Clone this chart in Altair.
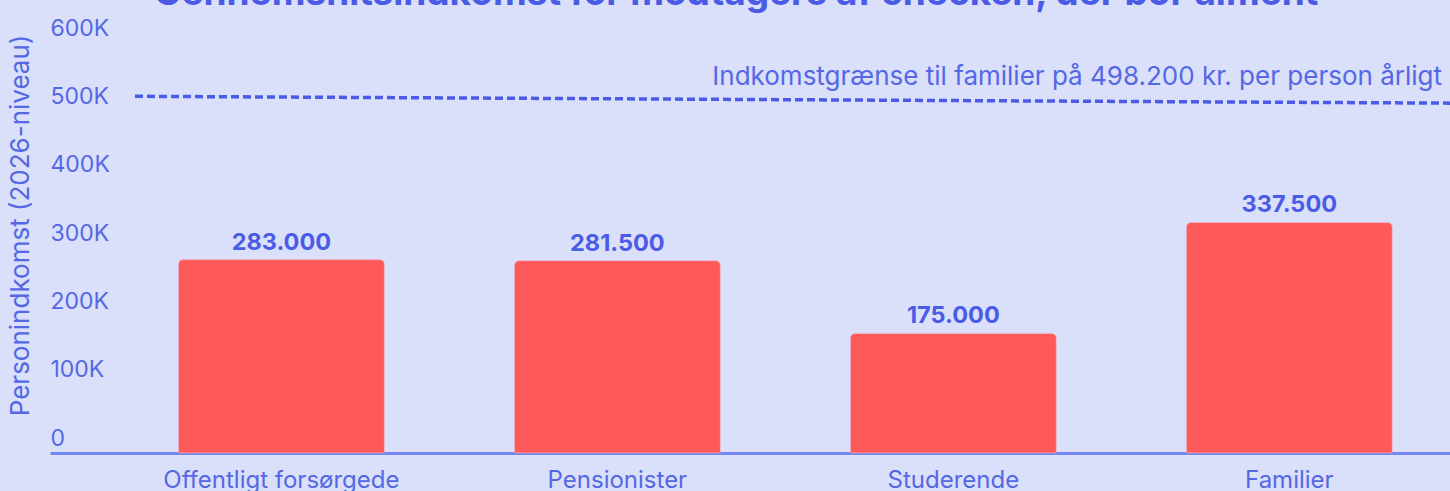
import altair as alt
import pandas as pd

# ---- data ----
categories = ["Offentligt forsørgede", "Pensionister", "Studerende", "Familier"]
incomes = [283000, 281500, 175000, 337500]
y_ticks = [0, 100000, 200000, 300000, 400000, 500000, 600000]
limit_text = "Indkomstgrænse til familier på 498.200 kr. per person årligt"
# dashed limit line as drawn (slightly sloping in the picture)
limit_line_start = 522000
limit_line_end = 512000
title_text = "Gennemsnitsindkomst for modtagere af checken, der bor alment"

BG = "#DADFFA"
BLUE = "#4A5CE6"
LABEL_BLUE = "#5468E4"
BAR = "#FF5A5A"
FONT = "Inter"

df = pd.DataFrame({
    "kategori": categories,
    "indkomst": incomes,
    "label": [f"{v:,}".replace(",", ".") for v in incomes],
})
limit_df = pd.DataFrame({
    "y1": [limit_line_start],
    "y2": [limit_line_end],
    "text": [limit_text],
})

y_scale = alt.Scale(domain=[0, 600000], nice=False, zero=True)
x_enc = alt.X(
    "kategori:N",
    sort=categories,
    title=None,
    scale=alt.Scale(paddingInner=0.387, paddingOuter=0.277, align=0.69),
    axis=alt.Axis(
        labelAngle=0,
        labelFont=FONT,
        labelFontSize=24,
        labelColor=LABEL_BLUE,
        labelPadding=15,
        labelLimit=0,
        ticks=False,
        domainColor="#7288EE",
        domainWidth=3,
        grid=False,
    ),
)

bars = alt.Chart(df).mark_bar(
    color=BAR,
    cornerRadiusTopLeft=5,
    cornerRadiusTopRight=5,
    stroke="#F5A0B0",
    strokeWidth=0.6,
).encode(
    x=x_enc,
    y=alt.Y(
        "indkomst:Q",
        scale=y_scale,
        title="Personindkomst (2026-niveau)",
        axis=alt.Axis(
            values=y_ticks,
            labelExpr="datum.value == 0 ? '0' : (datum.value / 1000) + 'K'",
            labelAlign="left",
            labelBaseline="bottom",
            labelPadding=0,
            labelOffset=-3,
            labelFont=FONT,
            labelFontSize=23,
            labelColor=LABEL_BLUE,
            ticks=False,
            domain=False,
            grid=False,
            titleFont=FONT,
            titleFontSize=26,
            titleFontWeight="normal",
            titleColor=LABEL_BLUE,
            titleX=-30,
            titleY=182,
            titleAngle=-90,
            titleAlign="center",
            titleBaseline="middle",
        ),
    ),
)

bar_labels = alt.Chart(df).mark_text(
    font=FONT,
    fontSize=23.5,
    fontWeight="bold",
    color=BLUE,
    baseline="alphabetic",
    dy=-10,
).encode(
    x=alt.X("kategori:N", sort=categories),
    y=alt.Y("indkomst:Q", scale=y_scale),
    text="label:N",
)

limit_rule = alt.Chart(limit_df).mark_rule(
    color=BLUE,
    strokeWidth=3.5,
    strokeDash=[8, 4],
).encode(
    x=alt.value(85),
    x2=alt.value(1400),
    y=alt.Y("y1:Q", scale=y_scale),
    y2="y2:Q",
)

limit_label = alt.Chart(limit_df).mark_text(
    font=FONT,
    fontSize=26,
    color=LABEL_BLUE,
    align="right",
    baseline="alphabetic",
    dy=-18,
).encode(
    x=alt.value(1392),
    y=alt.Y("y2:Q", scale=y_scale),
    text="text:N",
)

chart = alt.layer(bars, bar_labels, limit_rule, limit_label).properties(
    width=1400,
    height=410,
    background=BG,
    padding={"left": 50, "top": 43, "right": 0, "bottom": 38},
    autosize=alt.AutoSizeParams(type="none"),
    title=alt.TitleParams(
        text=title_text,
        font=FONT,
        fontSize=37,
        fontWeight="bold",
        color=BLUE,
        anchor="middle",
        offset=0,
        dx=-14,
        dy=-4,
    ),
).configure_view(stroke=None)

chart.save("out.html", embed_options={"renderer": "svg", "actions": False})
